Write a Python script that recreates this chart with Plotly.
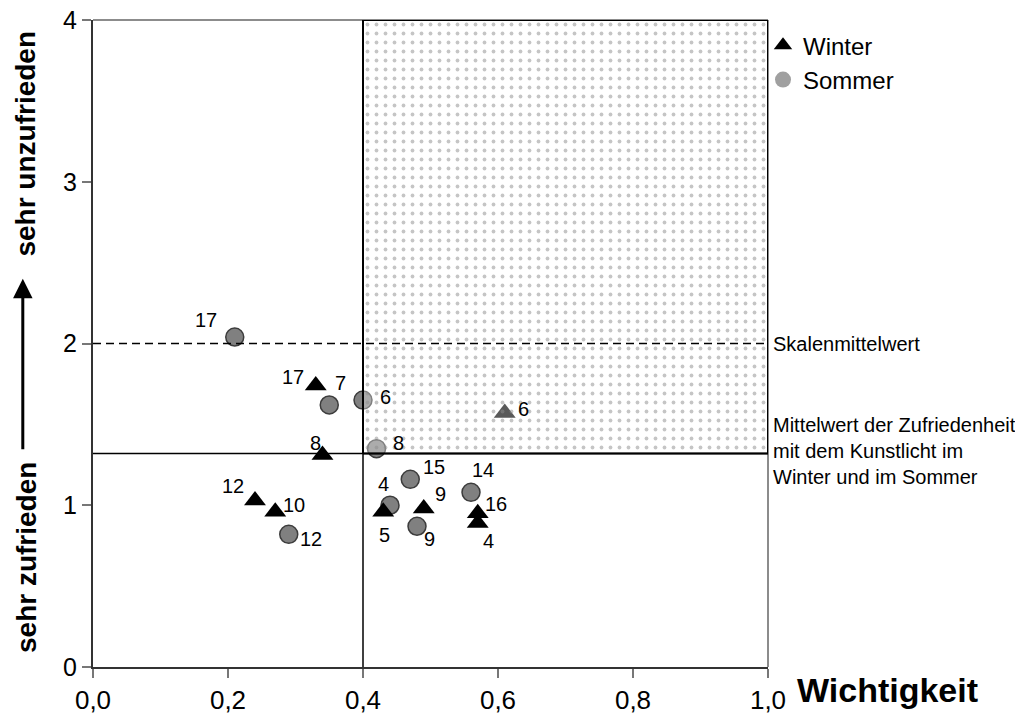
import plotly.graph_objects as go

# Sommer (circles)
sommer_x = [0.21, 0.35, 0.40, 0.42, 0.47, 0.44, 0.48, 0.56, 0.29]
sommer_y = [2.04, 1.62, 1.65, 1.35, 1.16, 1.00, 0.87, 1.08, 0.82]
sommer_labels = ["17", "7", "6", "8", "15", "4", "9", "14", "12"]

# Winter (triangles)
winter_x = [0.33, 0.34, 0.24, 0.27, 0.43, 0.49, 0.57, 0.57, 0.61]
winter_y = [1.74, 1.31, 1.03, 0.96, 0.96, 0.98, 0.95, 0.89, 1.57]
winter_labels = ["17", "8", "12", "10", "5", "9", "16", "4", "6"]

x_ticks = [0.0, 0.2, 0.4, 0.6, 0.8, 1.0]
y_ticks = [0, 1, 2, 3, 4]

skalenmittelwert = 2.0
mittelwert_zufriedenheit = 1.32
wichtigkeit_grenze = 0.4

# label offsets in pixels (dx, dy)
sommer_offsets = [(-29, 17), (11, 22), (22, 3), (22, 6), (24, 12),
                  (-7, 21), (12, -13), (12, 22), (22, -5)]
winter_offsets = [(-23, 9), (-7, 12), (-22, 14), (19, 7), (1, -23),
                  (17, 14), (18, 9), (11, -18), (19, 4)]

FONT = "Liberation Sans, Arial, sans-serif"

fig = go.Figure()

fig.add_trace(go.Scatter(
    x=sommer_x, y=sommer_y, mode="markers", showlegend=False,
    marker=dict(symbol="circle", size=18, color="#808080",
                line=dict(color="#3c3c3c", width=1.5)),
))
fig.add_trace(go.Scatter(
    x=winter_x, y=winter_y, mode="markers", showlegend=False,
    marker=dict(symbol="triangle-up", size=19, color="black",
                line=dict(width=0)),
))

# dotted region (important + unsatisfied), drawn on top of the markers
fig.add_trace(go.Scatter(
    x=[wichtigkeit_grenze, 1.0, 1.0, wichtigkeit_grenze, wichtigkeit_grenze],
    y=[mittelwert_zufriedenheit, mittelwert_zufriedenheit, 4, 4,
       mittelwert_zufriedenheit],
    mode="lines", fill="toself", showlegend=False, hoverinfo="skip",
    fillcolor="rgba(255,255,255,0.35)",
    fillpattern=dict(shape=".", size=9, solidity=0.14, fgcolor="#8c8c8c",
                     fillmode="overlay"),
    line=dict(color="black", width=2),
))

# legend entries
fig.add_trace(go.Scatter(
    x=[None], y=[None], mode="markers", name="Winter",
    marker=dict(symbol="triangle-up", size=18, color="black"),
))
fig.add_trace(go.Scatter(
    x=[None], y=[None], mode="markers", name="Sommer",
    marker=dict(symbol="circle", size=18, color="#a0a0a0"),
))

# reference lines
fig.add_shape(type="line", x0=0, x1=1, y0=skalenmittelwert, y1=skalenmittelwert,
              line=dict(color="black", width=1.5, dash="8px,5px"))
fig.add_shape(type="line", x0=0, x1=1, y0=mittelwert_zufriedenheit,
              y1=mittelwert_zufriedenheit, line=dict(color="black", width=1.5))
fig.add_shape(type="line", x0=wichtigkeit_grenze, x1=wichtigkeit_grenze, y0=0, y1=4,
              line=dict(color="black", width=1.5))
# gray frame top/right
fig.add_shape(type="line", xref="paper", yref="paper", x0=0, x1=1, y0=1, y1=1,
              line=dict(color="#8c8c8c", width=2), layer="below")
fig.add_shape(type="line", xref="paper", yref="paper", x0=1, x1=1, y0=0, y1=1,
              line=dict(color="#8c8c8c", width=2), layer="below")

annotations = []
for xs, ys, labs, offs in [(sommer_x, sommer_y, sommer_labels, sommer_offsets),
                           (winter_x, winter_y, winter_labels, winter_offsets)]:
    for x, y, t, (dx, dy) in zip(xs, ys, labs, offs):
        annotations.append(dict(x=x, y=y, text=t, showarrow=False,
                                xshift=dx, yshift=dy,
                                font=dict(size=20, color="black", family=FONT)))

annotations += [
    dict(xref="paper", yref="y", x=1.0, y=skalenmittelwert, xshift=3,
         text="Skalenmittelwert", showarrow=False, xanchor="left",
         yanchor="middle", align="left",
         font=dict(size=20, color="black", family=FONT)),
    dict(xref="paper", yref="y", x=1.0, y=mittelwert_zufriedenheit, xshift=3,
         yshift=2,
         text="Mittelwert der Zufriedenheit<br>mit dem Kunstlicht im<br>Winter und im Sommer",
         showarrow=False, xanchor="left", yanchor="middle", align="left",
         font=dict(size=20, color="black", family=FONT)),
    dict(xref="paper", yref="paper", x=1.04, y=-0.036, text="<b>Wichtigkeit</b>",
         showarrow=False, xanchor="left", yanchor="middle",
         font=dict(size=34, color="black", family=FONT)),
    dict(xref="paper", yref="paper", x=-0.0993, y=0.809, text="<b>sehr unzufrieden</b>",
         showarrow=False, textangle=-90, xanchor="center", yanchor="middle",
         font=dict(size=28, color="black", family=FONT)),
    dict(xref="paper", yref="paper", x=-0.0993, y=0.170, text="<b>sehr zufrieden</b>",
         showarrow=False, textangle=-90, xanchor="center", yanchor="middle",
         font=dict(size=28, color="black", family=FONT)),
    dict(xref="paper", yref="paper", x=-0.104, y=0.600, text="", showarrow=True,
         ax=0, ay=172, arrowhead=2, arrowsize=1.3, arrowwidth=3,
         arrowcolor="black", standoff=0, startstandoff=0),
]

# page body has an 8px margin, so the figure is 8px smaller and shifted
fig.update_layout(
    width=1015, height=719,
    margin=dict(l=85, r=255, t=12, b=60, autoexpand=False),
    paper_bgcolor="white", plot_bgcolor="white",
    separators=",.",
    font=dict(family=FONT, color="black"),
    annotations=annotations,
    legend=dict(x=0.9926, y=0.995, xanchor="left", yanchor="top",
                font=dict(size=24, color="black", family=FONT),
                bgcolor="rgba(0,0,0,0)", itemwidth=30, tracegroupgap=0),
)
fig.update_xaxes(range=[0, 1], tickvals=x_ticks, tickformat=".1f",
                 showgrid=False, zeroline=False, showline=True,
                 linecolor="#333333", linewidth=2, ticks="outside",
                 ticklen=9, tickcolor="#777777", tickwidth=1.5, automargin=False,
                 ticklabeloverflow="allow",
                 tickfont=dict(size=26, family=FONT, color="black"))
fig.update_yaxes(range=[0, 4], tickvals=y_ticks, showgrid=False,
                 zeroline=False, showline=True, linecolor="#333333",
                 linewidth=2, ticks="outside", ticklen=9, tickcolor="#777777",
                 tickwidth=1.5, automargin=False, ticklabeloverflow="allow",
                 tickfont=dict(size=25, family=FONT, color="black"))

fig.write_html("out.html")
